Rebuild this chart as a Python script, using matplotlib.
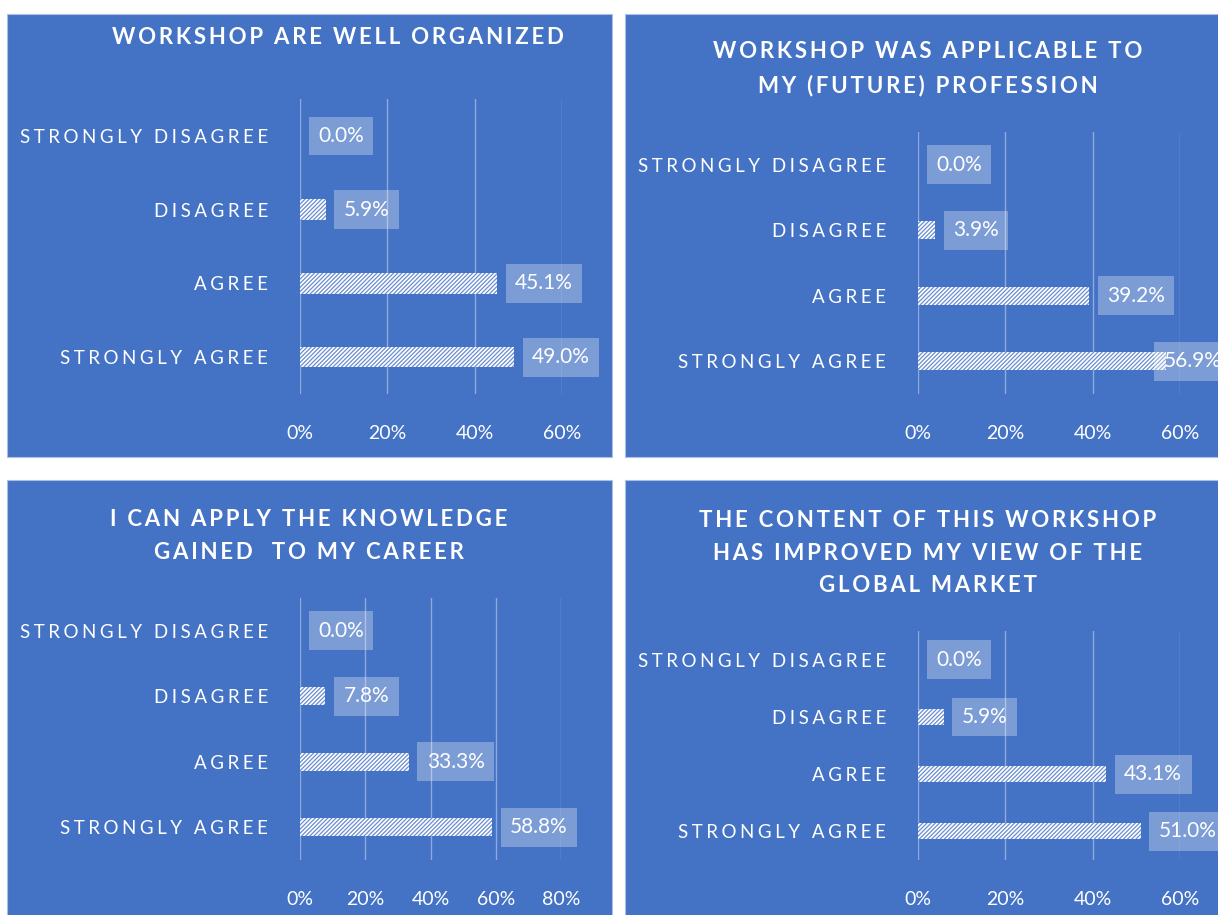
import matplotlib
matplotlib.use("Agg")
import matplotlib.pyplot as plt
from matplotlib.patches import Rectangle

plt.rcParams['font.family'] = ['Lato', 'DejaVu Sans']
plt.rcParams['hatch.linewidth'] = 0.9

W, H = 1218, 915
BLUE = '#4472C4'
GRID = '#8FAADC'

categories = ['STRONGLY AGREE', 'AGREE', 'DISAGREE', 'STRONGLY DISAGREE']

title_1 = 'WORKSHOP ARE WELL ORGANIZED'
values_1 = [49.0, 45.1, 5.9, 0.0]
title_2 = 'WORKSHOP WAS APPLICABLE TO\nMY (FUTURE) PROFESSION'
values_2 = [56.9, 39.2, 3.9, 0.0]
title_3 = 'I CAN APPLY THE KNOWLEDGE\nGAINED  TO MY CAREER'
values_3 = [58.8, 33.3, 7.8, 0.0]
title_4 = 'THE CONTENT OF THIS WORKSHOP\nHAS IMPROVED MY VIEW OF THE\nGLOBAL MARKET'
values_4 = [51.0, 43.1, 5.9, 0.0]
xmax = [60, 60, 80, 60]


def spaced(s, sep='\u2009'):
    return '\n'.join(sep.join(line) for line in s.split('\n'))


fig = plt.figure(figsize=(W / 100, H / 100), dpi=100)
fig.patch.set_facecolor('white')


def frac_box(x0, y0, x1, y1):
    return [x0 / W, 1 - y1 / H, (x1 - x0) / W, (y1 - y0) / H]


# panel backgrounds (pixel coords, top-down)
panels = [(7, 14, 612, 457), (625, 14, 1222, 457), (7, 480, 612, 920), (625, 480, 1222, 920)]
for x0, y0, x1, y1 in panels:
    fig.patches.append(Rectangle((x0 / W, 1 - y1 / H), (x1 - x0) / W, (y1 - y0) / H,
                                 transform=fig.transFigure, facecolor=BLUE,
                                 edgecolor='#A9BFE6', linewidth=0.8, zorder=-5))

# axes boxes: (x at 0%, y top, x at last tick, y bottom)
axes_px = [(300, 99, 562, 394), (918, 132, 1180, 394), (300, 598, 561, 860), (918, 631, 1180, 860)]
titles = [title_1, title_2, title_3, title_4]
values = [values_1, values_2, values_3, values_4]
title_pos = [(338, 38), (928, 69), (309, 536), (928, 553)]

for i in range(4):
    ax = fig.add_axes(frac_box(*axes_px[i]))
    ax.set_zorder(2)
    ax.set_facecolor('none')
    ypos = range(len(categories))
    ax.barh(ypos, values[i], height=0.28, color='white', edgecolor='#6A8DD0',
            linewidth=0, hatch='////////', zorder=3)
    ax.set_xlim(0, xmax[i])
    ax.set_ylim(-0.5, 3.5)
    ax.set_xticks(range(0, xmax[i] + 1, 20))
    ax.set_xticklabels([f'{t}%' for t in range(0, xmax[i] + 1, 20)])
    ax.set_yticks(list(ypos))
    ax.set_yticklabels([spaced(c, '\u2009\u200a') for c in categories])
    ax.tick_params(axis='x', length=0, pad=22, labelsize=14, colors='white')
    ax.tick_params(axis='y', length=0, pad=23, labelsize=13.5, colors='white')
    for s in ax.spines.values():
        s.set_visible(False)
    ax.grid(axis='x', color=GRID, linewidth=1.0, zorder=1)
    ax.set_axisbelow(True)
    for y, v in zip(ypos, values[i]):
        # the label that would run past the panel edge is pulled back over the bar
        off = 13 if v / xmax[i] < 0.9 else -2
        ax.annotate(f'{v:.1f}%', xy=(v, y), xytext=(off, 0), textcoords='offset points',
                    va='center', ha='left', fontsize=15, color='white', zorder=4,
                    annotation_clip=False,
                    bbox=dict(boxstyle='square,pad=0.45', facecolor='white',
                              alpha=0.3, edgecolor='none'))
    tx, ty = title_pos[i]
    fig.text(tx / W, 1 - ty / H, spaced(titles[i]), ha='center', va='center',
             fontsize=16, fontweight='bold', color='white', linespacing=1.7)

fig.savefig('out.png', dpi=100)
